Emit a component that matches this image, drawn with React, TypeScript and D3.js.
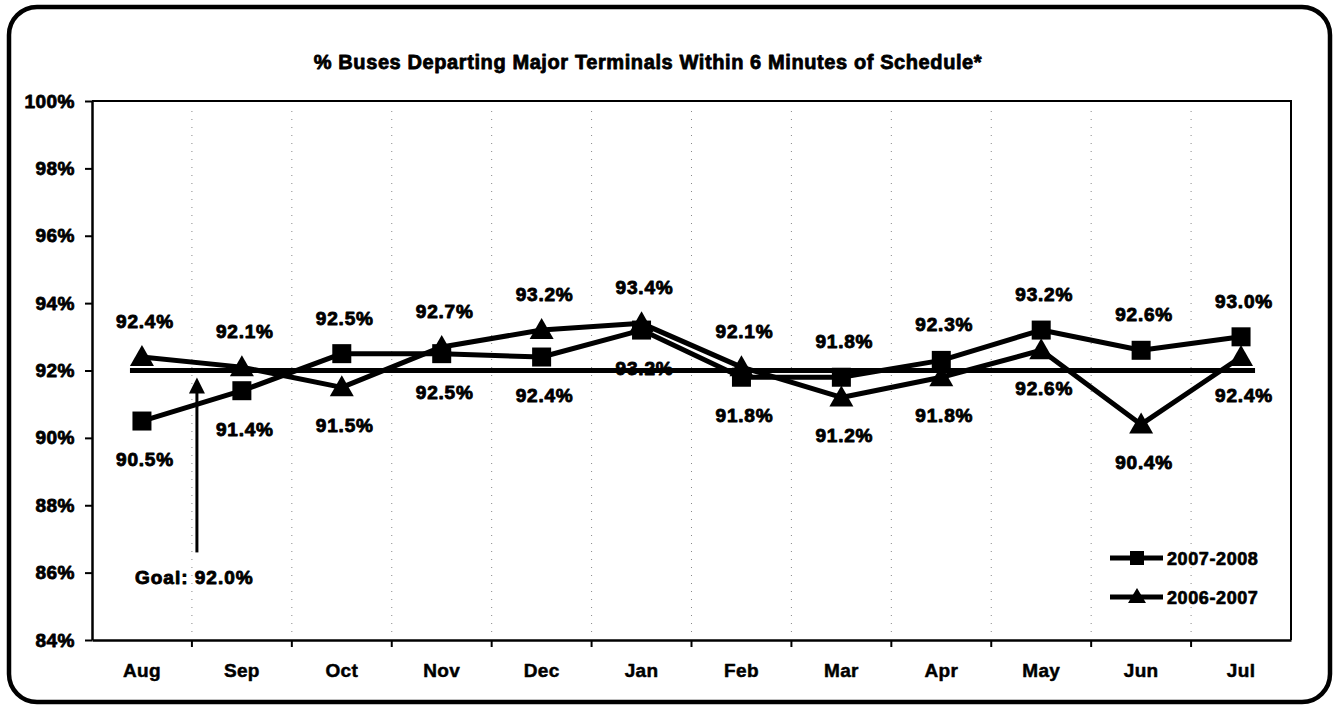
import React, { useRef, useEffect } from 'react';
import * as d3 from 'd3';

const months = ['Aug', 'Sep', 'Oct', 'Nov', 'Dec', 'Jan', 'Feb', 'Mar', 'Apr', 'May', 'Jun', 'Jul'];
const fy0708 = [90.5, 91.4, 92.5, 92.5, 92.4, 93.2, 91.8, 91.8, 92.3, 93.2, 92.6, 93.0];
const fy0607 = [92.4, 92.1, 91.5, 92.7, 93.2, 93.4, 92.1, 91.2, 91.8, 92.6, 90.4, 92.4];
const goal = 92.0;
const yTicks = [84, 86, 88, 90, 92, 94, 96, 98, 100];
const seriesNames = ['2007-2008', '2006-2007'];
const title = '% Buses Departing Major Terminals Within 6 Minutes of Schedule*';

const W = 1337;
const H = 710;
const FONT = 'Liberation Sans, Arial, sans-serif';

export default function App() {
  const svgRef = useRef<SVGSVGElement>(null);

  useEffect(() => {
    const svg = d3.select(svgRef.current);
    svg.selectAll('*').remove();

    const left = 92, right = 1291, top = 101, bottom = 640;

    const x = d3.scaleBand<string>().domain(months).range([left, right]).padding(0);
    const cx = (m: string) => (x(m) as number) + x.bandwidth() / 2;
    const y = d3.scaleLinear().domain([84, 100]).range([bottom, top]);

    // bold scanned-look text helper
    const boldText = (sel: any, size: number, spacing: number, weight = 0.8) =>
      sel.attr('font-family', FONT)
        .attr('font-weight', 'bold')
        .attr('font-size', size)
        .attr('letter-spacing', spacing)
        .attr('fill', 'black')
        .attr('stroke', 'black')
        .attr('stroke-width', weight)
        .attr('stroke-linejoin', 'round');

    // outer frame
    svg.append('rect')
      .attr('x', 9).attr('y', 7)
      .attr('width', 1321).attr('height', 695)
      .attr('rx', 28)
      .attr('fill', 'white')
      .attr('stroke', 'black')
      .attr('stroke-width', 4.5);

    // title
    boldText(svg.append('text')
      .attr('x', 648).attr('y', 69)
      .attr('text-anchor', 'middle'), 20, 0.6)
      .text(title);

    // faint dotted gridlines at category boundaries
    svg.append('g')
      .selectAll('line')
      .data(months.slice(1))
      .join('line')
      .attr('x1', d => x(d) as number)
      .attr('x2', d => x(d) as number)
      .attr('y1', top + 10)
      .attr('y2', bottom - 5)
      .attr('stroke', '#888')
      .attr('stroke-width', 1)
      .attr('stroke-dasharray', '1 7');

    // plot border (top + right)
    svg.append('path')
      .attr('d', `M${left},${top}H${right}V${bottom}`)
      .attr('fill', 'none')
      .attr('stroke', 'black')
      .attr('stroke-width', 2);

    // y axis
    svg.append('g')
      .attr('transform', `translate(${left},0)`)
      .call(d3.axisLeft(y).tickValues(yTicks).tickFormat(d => `${d}%`).tickSize(7).tickPadding(10).tickSizeOuter(0))
      .call(g => g.select('.domain').attr('stroke-width', 2.5))
      .call(g => g.selectAll('.tick line').attr('stroke-width', 2))
      .call(g => boldText(g.selectAll('.tick text'), 19, 0.5));

    // x axis: labels at centers, ticks at band boundaries
    svg.append('g')
      .attr('transform', `translate(0,${bottom})`)
      .call(d3.axisBottom(x).tickSize(0).tickPadding(24).tickSizeOuter(0))
      .call(g => g.select('.domain').attr('stroke-width', 2.5))
      .call(g => boldText(g.selectAll('.tick text'), 19, 0.3, 0.5));

    svg.append('g')
      .selectAll('line')
      .data(months.slice(1))
      .join('line')
      .attr('x1', d => x(d) as number)
      .attr('x2', d => x(d) as number)
      .attr('y1', bottom)
      .attr('y2', bottom + 7)
      .attr('stroke', 'black')
      .attr('stroke-width', 2);

    // goal line
    svg.append('line')
      .attr('x1', cx(months[0]) - 12)
      .attr('x2', cx(months[months.length - 1]) + 14)
      .attr('y1', y(goal))
      .attr('y2', y(goal))
      .attr('stroke', 'black')
      .attr('stroke-width', 5);

    const line = d3.line<number>()
      .x((_, i) => cx(months[i]))
      .y(d => y(d));

    const sq = 19;
    const tri = 'M0,-12L12,9L-12,9Z';

    // 2007-2008 squares
    svg.append('path')
      .datum(fy0708)
      .attr('fill', 'none')
      .attr('stroke', 'black')
      .attr('stroke-width', 5)
      .attr('stroke-linejoin', 'round')
      .attr('d', line);
    svg.append('g')
      .selectAll('rect')
      .data(fy0708)
      .join('rect')
      .attr('x', (_, i) => cx(months[i]) - sq / 2)
      .attr('y', d => y(d) - sq / 2)
      .attr('width', sq)
      .attr('height', sq)
      .attr('fill', 'black');

    // 2006-2007 triangles
    svg.append('path')
      .datum(fy0607)
      .attr('fill', 'none')
      .attr('stroke', 'black')
      .attr('stroke-width', 5)
      .attr('stroke-linejoin', 'round')
      .attr('d', line);
    svg.append('g')
      .selectAll('path')
      .data(fy0607)
      .join('path')
      .attr('d', tri)
      .attr('transform', (d, i) => `translate(${cx(months[i])},${y(d)})`)
      .attr('fill', 'black');

    // data labels: higher value above, lower below
    const labels: { m: string; v: number; above: boolean }[] = [];
    months.forEach((m, i) => {
      const a = fy0708[i], b = fy0607[i];
      labels.push({ m, v: a, above: a > b });
      labels.push({ m, v: b, above: b >= a });
    });
    boldText(svg.append('g')
      .selectAll('text')
      .data(labels)
      .join('text')
      .attr('x', d => cx(d.m) + 3)
      .attr('y', d => d.above ? y(d.v) - 29 : y(d.v) + 45)
      .attr('text-anchor', 'middle'), 19, 0.8, 0.9)
      .text(d => `${d.v.toFixed(1)}%`);

    // goal annotation arrow
    const ax = (x('Sep') as number) + 5;
    const tipY = y(goal) + 7;
    svg.append('line')
      .attr('x1', ax).attr('x2', ax)
      .attr('y1', tipY + 14).attr('y2', y(86.6))
      .attr('stroke', 'black')
      .attr('stroke-width', 3);
    svg.append('path')
      .attr('d', `M${ax},${tipY}L${ax + 8},${tipY + 16}L${ax - 8},${tipY + 16}Z`)
      .attr('fill', 'black');
    boldText(svg.append('text')
      .attr('x', cx('Aug') - 7)
      .attr('y', y(86) + 11), 19, 1, 0.9)
      .text(`Goal: ${goal.toFixed(1)}%`);

    // legend
    const legend = svg.append('g').attr('transform', 'translate(1110,558)');
    seriesNames.forEach((name, i) => {
      const g = legend.append('g').attr('transform', `translate(0,${i * 39})`);
      g.append('line')
        .attr('x1', 0).attr('x2', 53)
        .attr('stroke', 'black').attr('stroke-width', 5);
      if (i === 0) {
        g.append('rect').attr('x', 20).attr('y', -7).attr('width', 14).attr('height', 14).attr('fill', 'black');
      } else {
        g.append('path').attr('d', 'M27,-9L36,6L18,6Z').attr('fill', 'black');
      }
      boldText(g.append('text')
        .attr('x', 57).attr('y', 6.5), 18, 0.6, 0.7)
        .text(name);
    });
  }, []);

  return (
    <svg
      ref={svgRef}
      width={W}
      height={H}
      style={{ position: 'absolute', left: 0, top: 0, background: 'white' }}
    />
  );
}
